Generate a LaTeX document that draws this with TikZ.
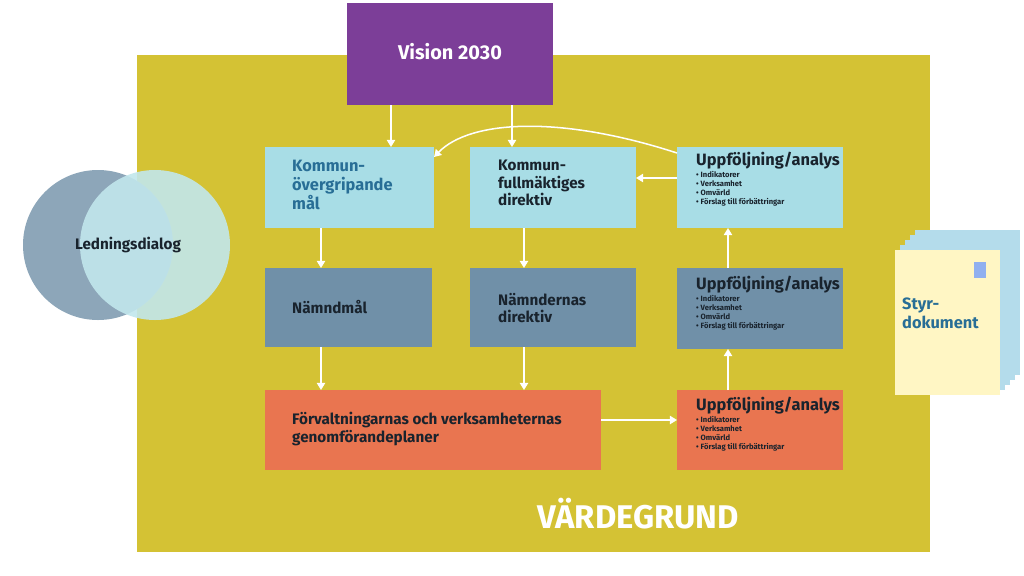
\documentclass[tikz,border=0pt]{standalone}
\usepackage{fontspec}
\setmainfont{Fira Sans}
\usepackage{tikz}
\usepackage{xcolor}
\usetikzlibrary{arrows.meta}
\definecolor{ground}{RGB}{212,194,52}
\definecolor{vision}{RGB}{124,62,152}
\definecolor{lightbox}{RGB}{168,221,230}
\definecolor{midbox}{RGB}{112,144,168}
\definecolor{orangebox}{RGB}{233,117,80}
\definecolor{titleblue}{RGB}{40,110,150}
\definecolor{darktext}{RGB}{25,35,45}
\definecolor{paper}{RGB}{255,246,196}
\definecolor{paperedge}{RGB}{180,220,235}
\tikzset{
  box/.style={anchor=north west,inner sep=0pt,text=darktext},
  flow/.style={white,line width=1.3pt,-{Triangle[length=6pt,width=7pt]}},
}
\newcommand{\follow}{\parbox[t]{150pt}{\fontsize{14}{15}\selectfont\bfseries Uppföljning/analys\\[1pt]
\fontsize{6.5}{7.6}\selectfont\textbullet\ Indikatorer\\\textbullet\ Verksamhet\\\textbullet\ Omvärld\\\textbullet\ Förslag till förbättringar}}
\begin{document}
\begin{tikzpicture}[x=0.03cm,y=-0.03cm]
\useasboundingbox (0,0) rectangle (1024,575);
\fill[white] (0,0) rectangle (1024,575);
\fill[ground] (137,55) rectangle (930,552);
% circles
\fill[midbox!80!white] (98,245) circle (75);
\fill[lightbox!70!white,opacity=0.9] (155,245) circle (75);
\node[font=\bfseries\fontsize{13}{14}\selectfont,text=darktext] (dialog) at (128,245) {Ledningsdialog};
% boxes
\fill[vision] (347,3) rectangle (553,105);
\node[white,font=\bfseries\fontsize{17}{18}\selectfont] (vision) at (450,52) {Vision 2030};
\fill[lightbox] (265,147) rectangle (434,228);
\fill[lightbox] (470,147) rectangle (636,228);
\fill[lightbox] (677,147) rectangle (843,228);
\fill[midbox] (265,268) rectangle (432,347);
\fill[midbox] (470,268) rectangle (636,347);
\fill[midbox] (677,268) rectangle (843,349);
\fill[orangebox] (265,390) rectangle (601,470);
\fill[orangebox] (677,390) rectangle (843,470);
\node[box,text=titleblue,align=left,font=\bfseries\fontsize{14}{16}\selectfont] (goal) at (292,160) {Kommun-\\övergripande\\mål};
\node[box,align=left,font=\bfseries\fontsize{13}{15}\selectfont] (directive) at (498,160) {Kommun-\\fullmäktiges\\direktiv};
\node[box,font=\bfseries\fontsize{13}{15}\selectfont] (boardgoal) at (292,300) {Nämndmål};
\node[box,align=left,font=\bfseries\fontsize{13}{15}\selectfont] (boarddir) at (498,293) {Nämndernas\\direktiv};
\node[box,align=left,font=\bfseries\fontsize{13}{15}\selectfont] (plans) at (292,412) {Förvaltningarnas och verksamheternas\\genomförandeplaner};
\node[box] (follow1) at (696,152) {\follow};
\node[box] (follow2) at (696,276) {\follow};
\node[box] (follow3) at (696,397) {\follow};
% papers
\foreach \d in {4,3,2,1}
  \fill[paperedge] (895+5*\d,250-5*\d) rectangle (1000+5*\d,395-5*\d);
\fill[paper] (895,250) rectangle (1000,395);
\fill[paperedge!80!blue] (974,262) rectangle (986,278);
\node[box,text=titleblue,align=left,font=\bfseries\fontsize{14}{16}\selectfont] (styr) at (902,298) {Styr-\\dokument};
\node[white,font=\bfseries\fontsize{28}{30}\selectfont] (value) at (638,514) {VÄRDEGRUND};
% arrows
\draw[flow] (391,105) -- (391,147);
\draw[flow] (512,105) -- (512,147);
\draw[flow] (677,178) -- (636,178);
\draw[flow] (677,153) .. controls (560,115) and (470,120) .. (434,157);
\draw[flow] (321,228) -- (321,268);
\draw[flow] (524,228) -- (524,268);
\draw[flow] (321,347) -- (321,390);
\draw[flow] (524,347) -- (524,390);
\draw[flow] (601,420) -- (677,420);
\draw[flow] (728,390) -- (728,349);
\draw[flow] (728,268) -- (728,228);
\end{tikzpicture}
\end{document}
